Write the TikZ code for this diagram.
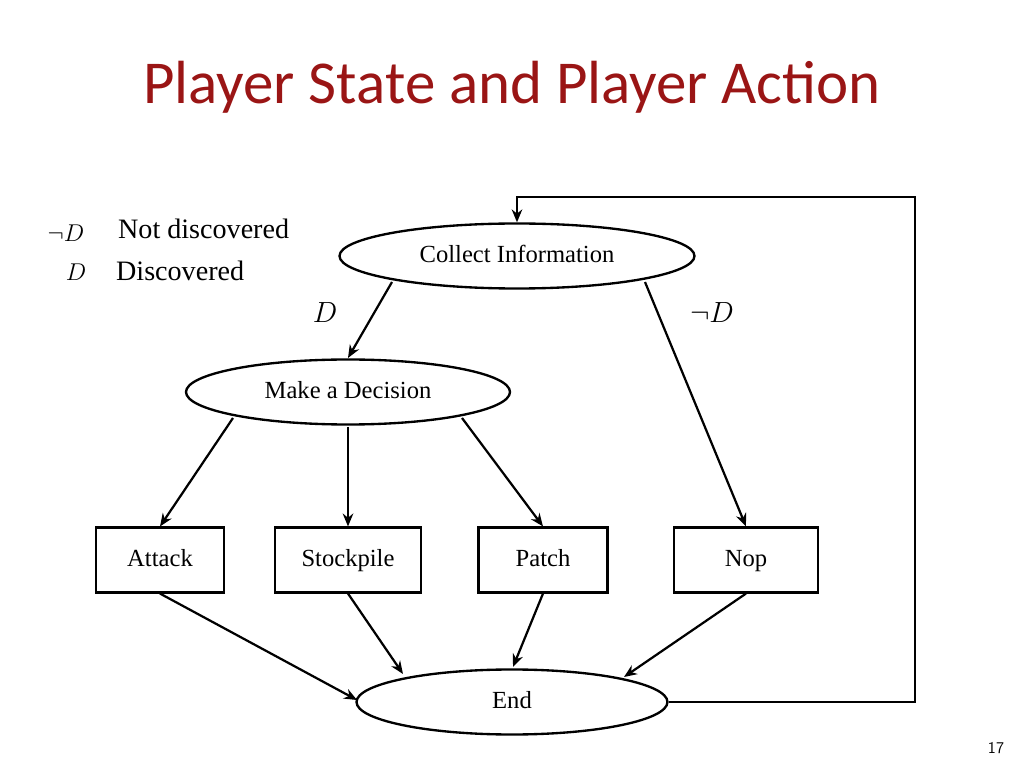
\documentclass[tikz,border=0pt]{standalone}
\usepackage{fontspec}
\setmainfont{Liberation Serif}
\newfontfamily\titlefont{Carlito}
\usetikzlibrary{arrows.meta,shapes.geometric}
\definecolor{titlered}{HTML}{9A1515}
\begin{document}
\begin{tikzpicture}[x=0.03cm,y=-0.03cm,
  el/.style={draw,line width=2pt,ellipse,inner sep=0pt,text height=15pt,text depth=4pt,font=\fontsize{21}{24}\selectfont},
  bx/.style={draw,line width=1.8pt,inner sep=0pt,text height=15pt,text depth=4pt,font=\fontsize{21}{24}\selectfont},
  ar/.style={line width=1.9pt,-{Stealth[length=11pt,width=9pt]}}]
\useasboundingbox (0,0) rectangle (1024,768);
\node[titlered,font=\titlefont\fontsize{52}{56}\selectfont] (title) at (512,87) {Player State and Player Action};
\node (nd) at (66,233) {\fontsize{22}{24}\selectfont$\neg D$};
\node[anchor=west,font=\fontsize{24}{26}\selectfont] (ndt) at (114,229) {Not discovered};
\node (dd) at (76,272) {\fontsize{22}{24}\selectfont$D$};
\node[anchor=west,font=\fontsize{24}{26}\selectfont] (ddt) at (112,271) {Discovered};
\node[el,minimum width=355*0.03cm,minimum height=65*0.03cm] (ci) at (517,256) {Collect Information};
\node[el,minimum width=324*0.03cm,minimum height=65*0.03cm] (md) at (348,392) {Make a Decision};
\node[el,minimum width=311*0.03cm,minimum height=65*0.03cm] (end) at (512,702) {End};
\node[bx,minimum width=128*0.03cm,minimum height=65*0.03cm] (at) at (160,560) {Attack};
\node[bx,minimum width=146*0.03cm,minimum height=65*0.03cm] (st) at (348,560) {Stockpile};
\node[bx,minimum width=129*0.03cm,minimum height=65*0.03cm] (pa) at (543,560) {Patch};
\node[bx,minimum width=144*0.03cm,minimum height=65*0.03cm] (no) at (746,560) {Nop};
\node (l1) at (325,313) {\fontsize{33}{36}\selectfont$D$};
\node (l2) at (712,313) {\fontsize{33}{36}\selectfont$\neg D$};
\coordinate (a1) at (392,282); \coordinate (a2) at (645,282);
\coordinate (b1) at (233,418); \coordinate (b2) at (348,427); \coordinate (b3) at (462,418);
\draw[ar] (a1) -- (348,358);
\draw[ar] (a2) -- (no.north);
\draw[ar] (b1) -- (at.north);
\draw[ar] (b2) -- (st.north);
\draw[ar] (b3) -- (pa.north);
\draw[ar] (at.south) -- (357,700);
\draw[ar] (st.south) -- (403,674);
\draw[ar] (pa.south) -- (513,667);
\draw[ar] (no.south) -- (624,677);
\draw[ar] (end.east) -- (915,702) -- (915,197) -- (517,197) -- (ci.north);
\node[font=\sffamily\fontsize{14}{16}\selectfont] (pg) at (996,748) {17};
\end{tikzpicture}
\end{document}
